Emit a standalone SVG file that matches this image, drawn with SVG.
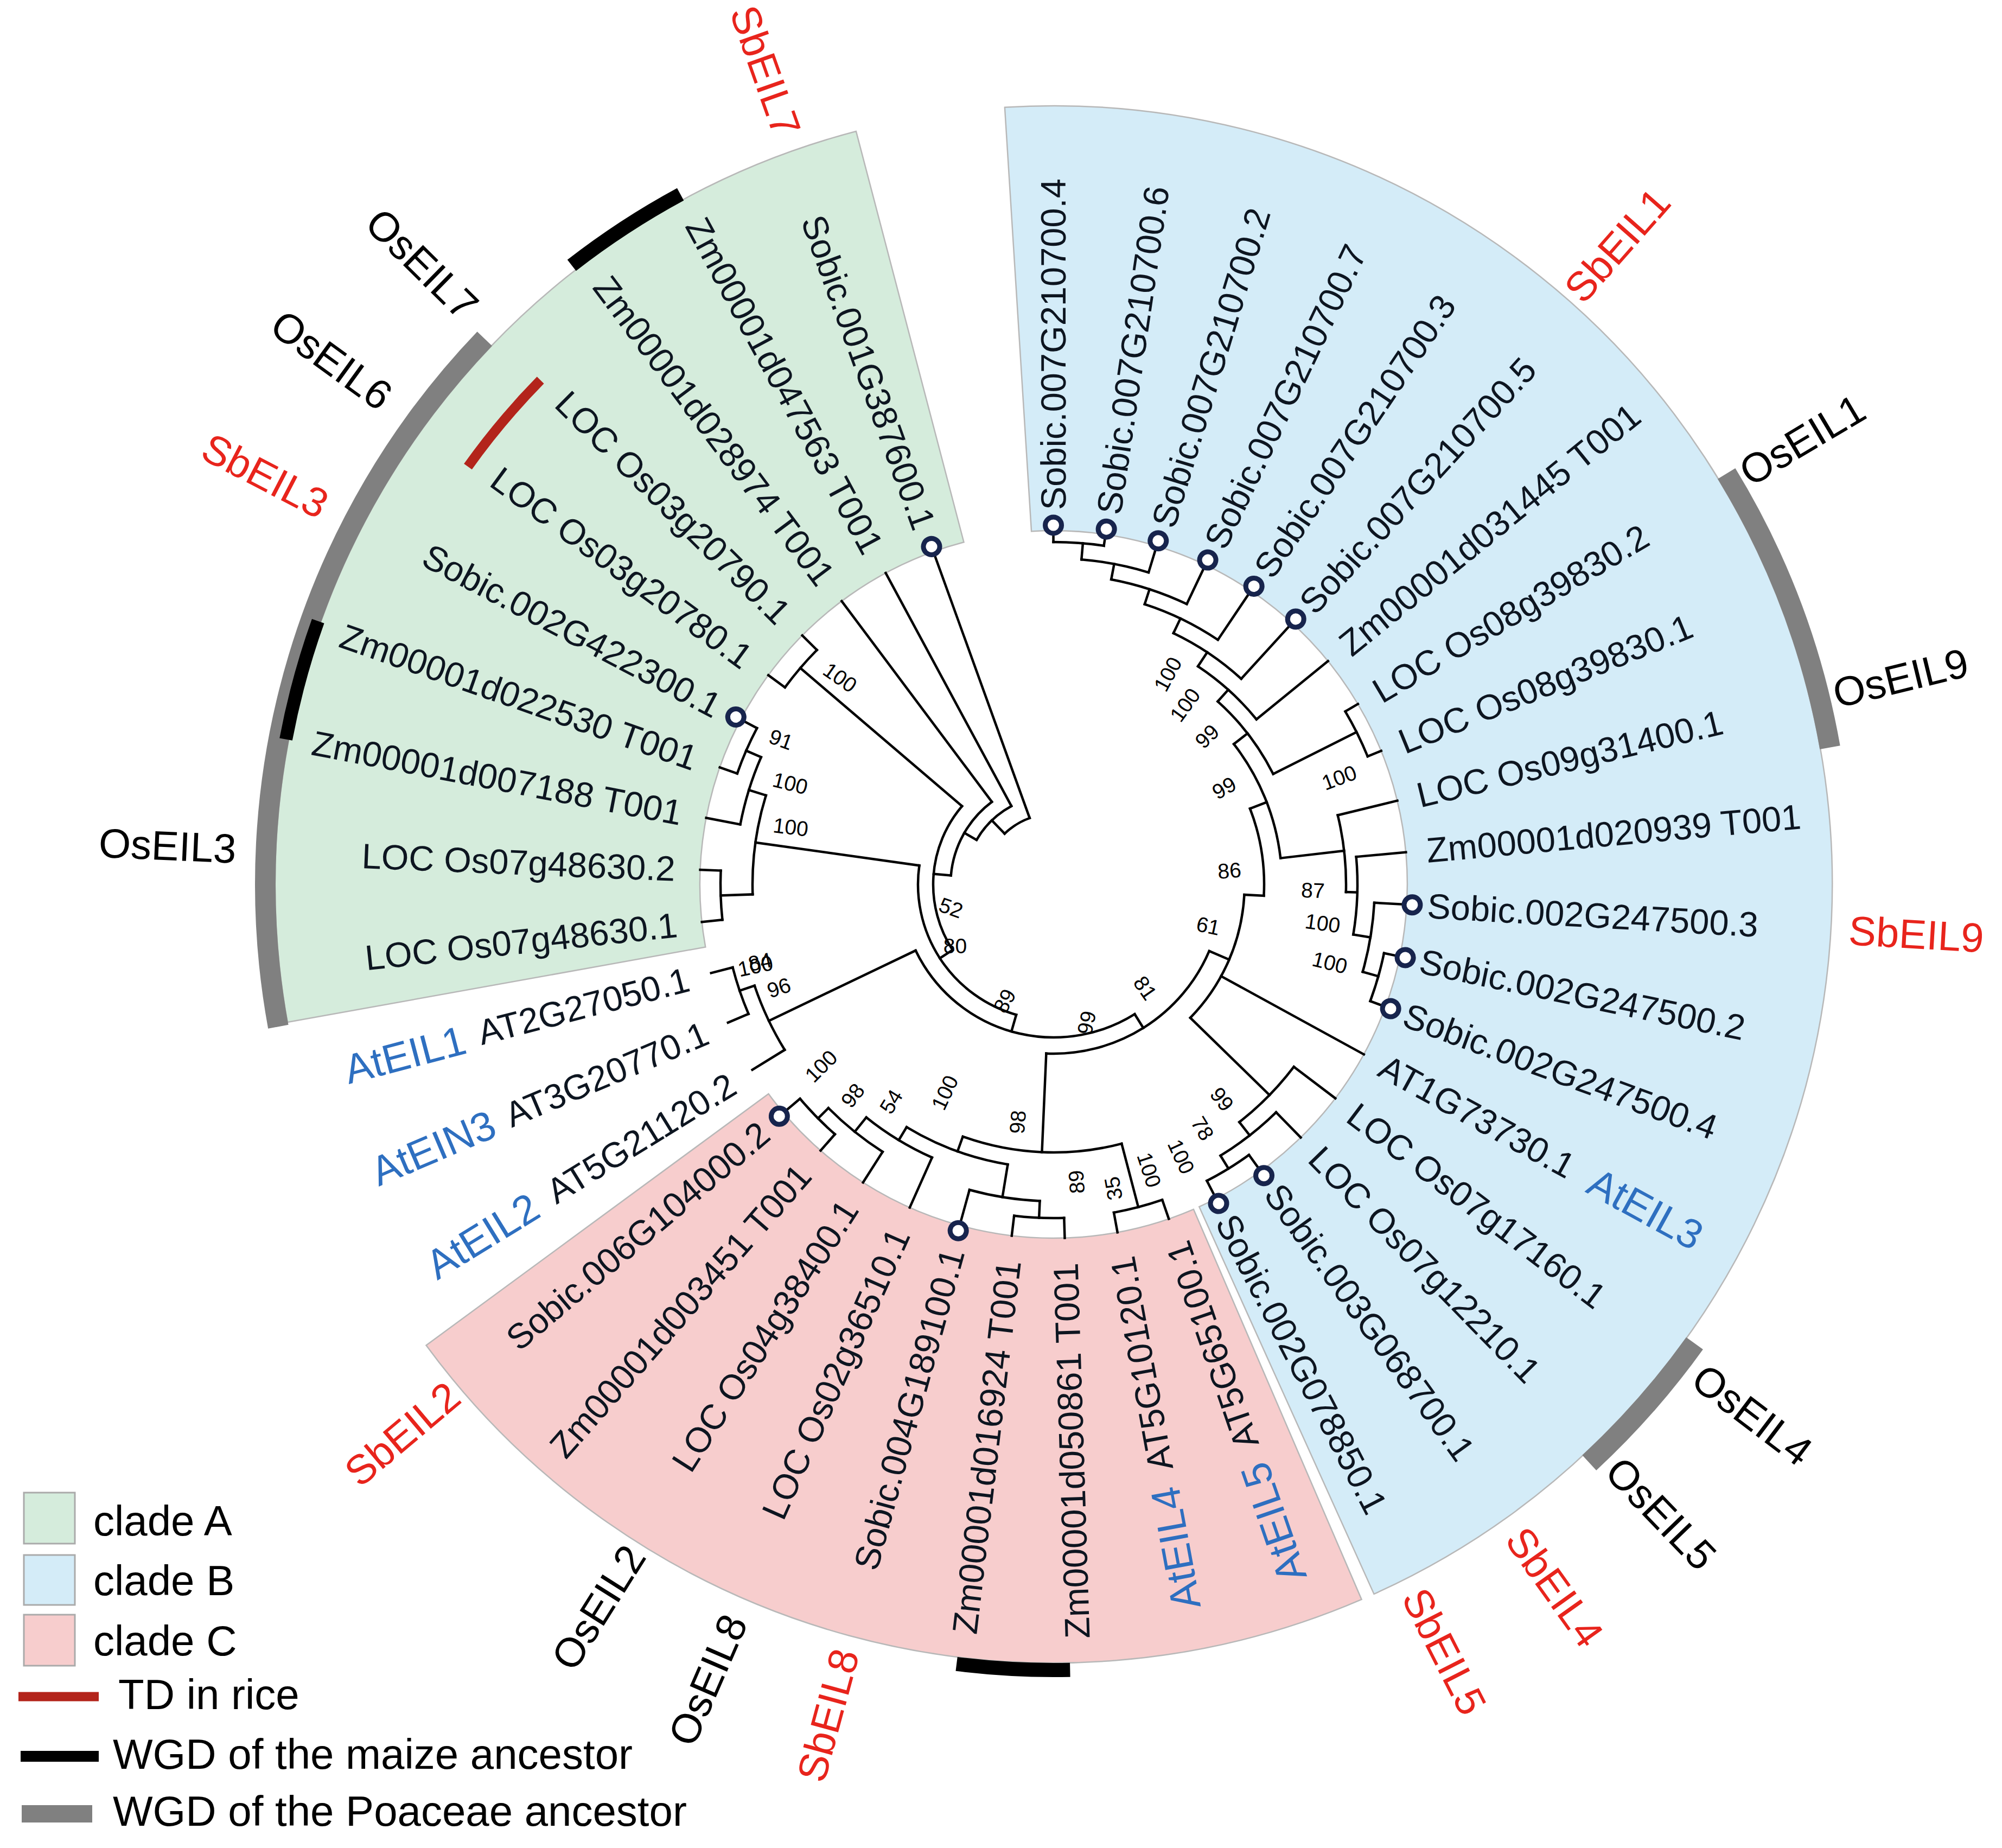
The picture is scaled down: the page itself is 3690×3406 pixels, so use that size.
<svg xmlns="http://www.w3.org/2000/svg" width="3690" height="3406" viewBox="0 0 3690 3406">
<style>
text{font-family:"Liberation Sans",Arial,Helvetica,sans-serif}
.br line,.br circle{fill:none;stroke:#000;stroke-width:4.5;stroke-linecap:square}
.lf{font-size:65px;fill:#0d1520}
.l{text-anchor:end}
.bs text{font-size:39px;fill:#000;text-anchor:middle}
.os{font-size:76px;fill:#000}
.sb{font-size:76px;fill:#e8241c}
.at{font-size:76px;fill:#2e6fc0}
.mk{fill:#fff;stroke:#17244d;stroke-width:9}
.sec{stroke:#b8b8b8;stroke-width:2.5}
.bar{fill:none}
.lg{font-size:78px;fill:#000}
</style>
<rect width="3690" height="3406" fill="#fff"/>
<g id="clade-A"><path class="sec" fill="#d5ecdc" d="M529.7,1884.1 A1435,1435 0 0 1 1577.9,242 L1776.5,999.3 A652,652 0 0 0 1300.3,1745.5 Z"/></g>
<g id="clade-B"><path class="sec" fill="#d4ecf8" d="M1851.9,197.8 A1435,1435 0 0 1 2532.5,2937.9 L2210.3,2224.2 A652,652 0 0 0 1901.1,979.3 Z"/></g>
<g id="clade-C"><path class="sec" fill="#f7cdcd" d="M2509.6,2947.9 A1435,1435 0 0 1 785.5,2479.5 L1416.5,2016 A652,652 0 0 0 2199.9,2228.8 Z"/></g>
<g transform="translate(1942,1630)">
<g id="duplication-bars" class="bar">
<circle r="1453" pathLength="360" stroke="#808080" stroke-width="38" stroke-dasharray="54.2 360" transform="rotate(169.6)"/>
<circle r="1453" pathLength="360" stroke="#808080" stroke-width="38" stroke-dasharray="21.4 360" transform="rotate(328.6)"/>
<circle r="1453" pathLength="360" stroke="#808080" stroke-width="38" stroke-dasharray="11.6 360" transform="rotate(35.6)"/>
<circle r="1446" pathLength="360" stroke="#000" stroke-width="26" stroke-dasharray="9.5 360" transform="rotate(232.1)"/>
<circle r="1440" pathLength="360" stroke="#000" stroke-width="24" stroke-dasharray="9 360" transform="rotate(190.7)"/>
<circle r="1448" pathLength="360" stroke="#000" stroke-width="26" stroke-dasharray="8.3 360" transform="rotate(88.8)"/>
<circle r="1326" pathLength="360" stroke="#b3241b" stroke-width="18" stroke-dasharray="9 360" transform="rotate(215.5)"/>
</g>
<g id="branches" class="br">
<circle r="614" pathLength="360" stroke-dasharray="8.47 360" transform="rotate(173.9)"/>
<circle r="618" pathLength="360" stroke-dasharray="8.47 360" transform="rotate(199.31)"/>
<circle r="588" pathLength="360" stroke-dasharray="12.66 360" transform="rotate(190.84)"/>
<circle r="555" pathLength="360" stroke-dasharray="19.1 360" transform="rotate(178.1)"/>
<circle r="614" pathLength="360" stroke-dasharray="8.47 360" transform="rotate(216.25)"/>
<circle r="250" pathLength="360" stroke-dasharray="82 360" transform="rotate(106)"/>
<circle r="222" pathLength="360" stroke-dasharray="73.5 360" transform="rotate(147)"/>
<circle r="190" pathLength="360" stroke-dasharray="48.19 360" transform="rotate(185)"/>
<circle r="164" pathLength="360" stroke-dasharray="31.66 360" transform="rotate(210)"/>
<circle r="130" pathLength="360" stroke-dasharray="24.13 360" transform="rotate(226)"/>
<circle r="282" pathLength="360" stroke-dasharray="96.4 360" transform="rotate(58)"/>
<circle r="582" pathLength="360" stroke-dasharray="12.9 360" transform="rotate(148.4)"/>
<circle r="611" pathLength="360" stroke-dasharray="8.5 360" transform="rotate(157)"/>
<circle r="312" pathLength="360" stroke-dasharray="69.3 360" transform="rotate(23.2)"/>
<circle r="494" pathLength="360" stroke-dasharray="34.5 360" transform="rotate(75.3)"/>
<circle r="615" pathLength="360" stroke-dasharray="8.6 360" transform="rotate(71)"/>
<circle r="523" pathLength="360" stroke-dasharray="21.9 360" transform="rotate(99.3)"/>
<circle r="584" pathLength="360" stroke-dasharray="12.9 360" transform="rotate(92.5)"/>
<circle r="615" pathLength="360" stroke-dasharray="8.6 360" transform="rotate(88.2)"/>
<circle r="551" pathLength="360" stroke-dasharray="14.8 360" transform="rotate(114)"/>
<circle r="585" pathLength="360" stroke-dasharray="12.6 360" transform="rotate(122.6)"/>
<circle r="612" pathLength="360" stroke-dasharray="8.6 360" transform="rotate(131.2)"/>
<circle r="352" pathLength="360" stroke-dasharray="41.2 360" transform="rotate(3.1)"/>
<circle r="556" pathLength="360" stroke-dasharray="14.79 360" transform="rotate(37.21)"/>
<circle r="587" pathLength="360" stroke-dasharray="12.71 360" transform="rotate(45.69)"/>
<circle r="615" pathLength="360" stroke-dasharray="8.49 360" transform="rotate(54.17)"/>
<circle r="388" pathLength="360" stroke-dasharray="24.2 360" transform="rotate(338.9)"/>
<circle r="421" pathLength="360" stroke-dasharray="31.3 360" transform="rotate(322.1)"/>
<circle r="539" pathLength="360" stroke-dasharray="15.19 360" transform="rotate(346.31)"/>
<circle r="560" pathLength="360" stroke-dasharray="14.71 360" transform="rotate(354.79)"/>
<circle r="592" pathLength="360" stroke-dasharray="12.53 360" transform="rotate(3.27)"/>
<circle r="622" pathLength="360" stroke-dasharray="8.48 360" transform="rotate(11.76)"/>
<circle r="453" pathLength="360" stroke-dasharray="21.4 360" transform="rotate(311.9)"/>
<circle r="625" pathLength="360" stroke-dasharray="8.48 360" transform="rotate(329.34)"/>
<circle r="482" pathLength="360" stroke-dasharray="17.36 360" transform="rotate(303.5)"/>
<circle r="513" pathLength="360" stroke-dasharray="16.88 360" transform="rotate(295.5)"/>
<circle r="543" pathLength="360" stroke-dasharray="15.89 360" transform="rotate(288)"/>
<circle r="572" pathLength="360" stroke-dasharray="14.71 360" transform="rotate(280.7)"/>
<circle r="601" pathLength="360" stroke-dasharray="12.03 360" transform="rotate(274.9)"/>
<circle r="631" pathLength="360" stroke-dasharray="8.48 360" transform="rotate(269.96)"/>
<line x1="555" x2="614" transform="rotate(178.1)"/>
<line x1="588" x2="618" transform="rotate(203.5)"/>
<line x1="555" x2="588" transform="rotate(197.2)"/>
<line x1="250" x2="555" transform="rotate(188)"/>
<line x1="222" x2="614" transform="rotate(220.5)"/>
<line x1="222" x2="250" transform="rotate(147)"/>
<line x1="190" x2="222" transform="rotate(185)"/>
<line x1="164" x2="190" transform="rotate(210)"/>
<line x1="130" x2="164" transform="rotate(226)"/>
<line x1="250" x2="282" transform="rotate(106)"/>
<line x1="282" x2="582" transform="rotate(154.4)"/>
<line x1="582" x2="611" transform="rotate(161.3)"/>
<line x1="282" x2="312" transform="rotate(58)"/>
<line x1="312" x2="494" transform="rotate(92.5)"/>
<line x1="494" x2="615" transform="rotate(75.3)"/>
<line x1="494" x2="523" transform="rotate(109.8)"/>
<line x1="523" x2="584" transform="rotate(99.3)"/>
<line x1="584" x2="615" transform="rotate(92.5)"/>
<line x1="523" x2="551" transform="rotate(121.2)"/>
<line x1="551" x2="585" transform="rotate(128.8)"/>
<line x1="585" x2="612" transform="rotate(135.2)"/>
<line x1="312" x2="352" transform="rotate(23.2)"/>
<line x1="352" x2="556" transform="rotate(44.3)"/>
<line x1="556" x2="587" transform="rotate(52)"/>
<line x1="587" x2="615" transform="rotate(58.4)"/>
<line x1="352" x2="388" transform="rotate(3.1)"/>
<line x1="388" x2="421" transform="rotate(338.9)"/>
<line x1="421" x2="539" transform="rotate(353.4)"/>
<line x1="539" x2="560" transform="rotate(1.5)"/>
<line x1="560" x2="592" transform="rotate(9.5)"/>
<line x1="592" x2="622" transform="rotate(15.8)"/>
<line x1="421" x2="453" transform="rotate(322.1)"/>
<line x1="453" x2="625" transform="rotate(333.3)"/>
<line x1="453" x2="482" transform="rotate(311.9)"/>
<line x1="482" x2="513" transform="rotate(303.5)"/>
<line x1="513" x2="543" transform="rotate(295.5)"/>
<line x1="543" x2="572" transform="rotate(288)"/>
<line x1="572" x2="601" transform="rotate(280.7)"/>
<line x1="601" x2="631" transform="rotate(274.9)"/>
<line x1="614" x2="652" transform="rotate(173.9)"/>
<line x1="614" x2="652" transform="rotate(182.37)"/>
<line x1="588" x2="652" transform="rotate(190.84)"/>
<line x1="618" x2="652" transform="rotate(199.31)"/>
<line x1="618" x2="652" transform="rotate(207.78)"/>
<line x1="614" x2="652" transform="rotate(216.25)"/>
<line x1="614" x2="652" transform="rotate(224.72)"/>
<line x1="190" x2="652" transform="rotate(233.19)"/>
<line x1="164" x2="652" transform="rotate(241.66)"/>
<line x1="130" x2="652" transform="rotate(250.13)"/>
<line x1="631" x2="652" transform="rotate(269.96)"/>
<line x1="631" x2="652" transform="rotate(278.44)"/>
<line x1="601" x2="652" transform="rotate(286.93)"/>
<line x1="572" x2="652" transform="rotate(295.41)"/>
<line x1="543" x2="652" transform="rotate(303.89)"/>
<line x1="513" x2="652" transform="rotate(312.38)"/>
<line x1="482" x2="652" transform="rotate(320.86)"/>
<line x1="625" x2="652" transform="rotate(329.34)"/>
<line x1="625" x2="652" transform="rotate(337.82)"/>
<line x1="539" x2="652" transform="rotate(346.31)"/>
<line x1="560" x2="652" transform="rotate(354.79)"/>
<line x1="592" x2="652" transform="rotate(3.27)"/>
<line x1="622" x2="652" transform="rotate(11.76)"/>
<line x1="622" x2="652" transform="rotate(20.24)"/>
<line x1="352" x2="652" transform="rotate(28.72)"/>
<line x1="556" x2="652" transform="rotate(37.21)"/>
<line x1="587" x2="652" transform="rotate(45.69)"/>
<line x1="615" x2="652" transform="rotate(54.17)"/>
<line x1="615" x2="652" transform="rotate(62.66)"/>
<line x1="615" x2="652" transform="rotate(71)"/>
<line x1="615" x2="652" transform="rotate(79.6)"/>
<line x1="615" x2="652" transform="rotate(88.2)"/>
<line x1="615" x2="652" transform="rotate(96.8)"/>
<line x1="584" x2="652" transform="rotate(105.4)"/>
<line x1="551" x2="652" transform="rotate(114)"/>
<line x1="585" x2="652" transform="rotate(122.6)"/>
<line x1="612" x2="652" transform="rotate(131.2)"/>
<line x1="612" x2="652" transform="rotate(139.8)"/>
<line x1="582" x2="652" transform="rotate(148.4)"/>
<line x1="611" x2="652" transform="rotate(157)"/>
<line x1="611" x2="652" transform="rotate(165.5)"/>
</g>
<g id="bootstrap" class="bs">
<text transform="rotate(224.1) translate(548,0) rotate(-189.1)" dy=".35em">100</text>
<text transform="rotate(208) translate(569,0) rotate(-188)" dy=".35em">91</text>
<text transform="rotate(201) translate(520,0) rotate(-187)" dy=".35em">100</text>
<text transform="rotate(192.3) translate(496,0) rotate(-185.3)" dy=".35em">100</text>
<text transform="rotate(167.2) translate(194,0) rotate(-147.2)" dy=".35em">52</text>
<text transform="rotate(148) translate(214,0) rotate(-148)" dy=".35em">80</text>
<text transform="rotate(164.7) translate(570,0) rotate(-176.7)" dy=".35em">100</text>
<text transform="rotate(164.7) translate(570,0) rotate(-176.7)" dx="10" dy=".2em">84</text>
<text transform="rotate(159.4) translate(541,0) rotate(-177.4)" dy=".35em">96</text>
<text transform="rotate(112.8) translate(233,0) rotate(-174.8)" dy=".35em">89</text>
<text transform="rotate(76.6) translate(262,0) rotate(-154.6)" dy=".35em">99</text>
<text transform="rotate(48.5) translate(255,0) rotate(6.5)" dy=".35em">81</text>
<text transform="rotate(15) translate(295,0) rotate(-3)" dy=".35em">61</text>
<text transform="rotate(-4.5) translate(325,0) rotate(0.5)" dy=".35em">86</text>
<text transform="rotate(142) translate(544,0) rotate(-187)" dy=".35em">100</text>
<text transform="rotate(133.6) translate(537,0) rotate(-185.6)" dy=".35em">98</text>
<text transform="rotate(126.8) translate(500,0) rotate(-184.8)" dy=".35em">54</text>
<text transform="rotate(117.6) translate(433,0) rotate(-182.6)" dy=".35em">100</text>
<text transform="rotate(98.6) translate(443,0) rotate(-183.6)" dy=".35em">98</text>
<text transform="rotate(85.6) translate(550,0) rotate(-179.6)" dy=".35em">89</text>
<text transform="rotate(78.9) translate(571,0) rotate(-178.9)" dy=".35em">35</text>
<text transform="rotate(71.5) translate(555,0) rotate(0.5)" dy=".35em">100</text>
<text transform="rotate(64.9) translate(554,0) rotate(0.1)" dy=".35em">100</text>
<text transform="rotate(58.6) translate(527,0) rotate(0.4)" dy=".35em">78</text>
<text transform="rotate(51.9) translate(503,0) rotate(0.1)" dy=".35em">99</text>
<text transform="rotate(1.3) translate(478,0) rotate(0.7)" dy=".35em">87</text>
<text transform="rotate(8.2) translate(501,0) rotate(-0.2)" dy=".35em">100</text>
<text transform="rotate(15.8) translate(529,0) rotate(-1.8)" dy=".35em">100</text>
<text transform="rotate(298.5) translate(441,0)" dy=".35em">100</text>
<text transform="rotate(306.2) translate(410,0)" dy=".35em">100</text>
<text transform="rotate(316) translate(393,0)" dy=".35em">99</text>
<text transform="rotate(330.5) translate(361,0)" dy=".35em">99</text>
<text transform="rotate(339.5) translate(562,0)" dy=".35em">100</text>
</g>
<g id="markers">
<circle class="mk" cx="662" r="15" transform="rotate(207.78)"/>
<circle class="mk" cx="662" r="15" transform="rotate(250.13)"/>
<circle class="mk" cx="662" r="15" transform="rotate(269.96)"/>
<circle class="mk" cx="662" r="15" transform="rotate(278.44)"/>
<circle class="mk" cx="662" r="15" transform="rotate(286.93)"/>
<circle class="mk" cx="662" r="15" transform="rotate(295.41)"/>
<circle class="mk" cx="662" r="15" transform="rotate(303.89)"/>
<circle class="mk" cx="662" r="15" transform="rotate(312.38)"/>
<circle class="mk" cx="662" r="15" transform="rotate(3.27)"/>
<circle class="mk" cx="662" r="15" transform="rotate(11.76)"/>
<circle class="mk" cx="662" r="15" transform="rotate(20.24)"/>
<circle class="mk" cx="662" r="15" transform="rotate(54.17)"/>
<circle class="mk" cx="662" r="15" transform="rotate(62.66)"/>
<circle class="mk" cx="662" r="15" transform="rotate(105.4)"/>
<circle class="mk" cx="662" r="15" transform="rotate(139.8)"/>
</g>
<g id="leaves-clade-A" class="lf">
<text id="g0" class="l" transform="rotate(-6.1)" x="-698" dy=".35em">LOC Os07g48630.1</text>
<text id="g1" class="l" transform="rotate(2.37)" x="-698" dy=".35em">LOC Os07g48630.2</text>
<text id="g2" class="l" transform="rotate(10.84)" x="-698" dy=".35em">Zm00001d007188 T001</text>
<text id="g3" class="l" transform="rotate(19.31)" x="-698" dy=".35em">Zm00001d022530 T001</text>
<text id="g4" class="l" transform="rotate(27.78)" x="-698" dy=".35em">Sobic.002G422300.1</text>
<text id="g5" class="l" transform="rotate(36.25)" x="-698" dy=".35em">LOC Os03g20780.1</text>
<text id="g6" class="l" transform="rotate(44.72)" x="-698" dy=".35em">LOC Os03g20790.1</text>
<text id="g7" class="l" transform="rotate(53.19)" x="-698" dy=".35em">Zm00001d028974 T001</text>
<text id="g8" class="l" transform="rotate(61.66)" x="-698" dy=".35em">Zm00001d047563 T001</text>
<text id="g9" class="l" transform="rotate(70.13)" x="-698" dy=".35em">Sobic.001G387600.1</text>
</g>
<g id="leaves-clade-B" class="lf">
<text id="b0" transform="rotate(-90.04)" x="690" dy=".35em">Sobic.007G210700.4</text>
<text id="b1" transform="rotate(-81.56)" x="690" dy=".35em">Sobic.007G210700.6</text>
<text id="b2" transform="rotate(-73.07)" x="690" dy=".35em">Sobic.007G210700.2</text>
<text id="b3" transform="rotate(-64.59)" x="690" dy=".35em">Sobic.007G210700.7</text>
<text id="b4" transform="rotate(-56.11)" x="690" dy=".35em">Sobic.007G210700.3</text>
<text id="b5" transform="rotate(-47.62)" x="690" dy=".35em">Sobic.007G210700.5</text>
<text id="b6" transform="rotate(-39.14)" x="690" dy=".35em">Zm00001d031445 T001</text>
<text id="b7" transform="rotate(-30.66)" x="690" dy=".35em">LOC Os08g39830.2</text>
<text id="b8" transform="rotate(-22.18)" x="690" dy=".35em">LOC Os08g39830.1</text>
<text id="b9" transform="rotate(-13.69)" x="690" dy=".35em">LOC Os09g31400.1</text>
<text id="b10" transform="rotate(-5.21)" x="690" dy=".35em">Zm00001d020939 T001</text>
<text id="b11" transform="rotate(3.27)" x="690" dy=".35em">Sobic.002G247500.3</text>
<text id="b12" transform="rotate(11.76)" x="690" dy=".35em">Sobic.002G247500.2</text>
<text id="b13" transform="rotate(20.24)" x="690" dy=".35em">Sobic.002G247500.4</text>
<text id="b14" transform="rotate(28.72)" x="690" dy=".35em">AT1G73730.1</text>
<text id="b15" transform="rotate(37.21)" x="690" dy=".35em">LOC Os07g17160.1</text>
<text id="b16" transform="rotate(45.69)" x="690" dy=".35em">LOC Os07g12210.1</text>
<text id="b17" transform="rotate(54.17)" x="690" dy=".35em">Sobic.003G068700.1</text>
<text id="b18" transform="rotate(62.66)" x="690" dy=".35em">Sobic.002G078850.1</text>
</g>
<g id="leaves-clade-C" class="lf">
<text id="p0" class="l" transform="rotate(-109)" x="-698" dy=".35em">AT5G65100.1</text>
<text id="p1" class="l" transform="rotate(-100.4)" x="-698" dy=".35em">AT5G10120.1</text>
<text id="p2" class="l" transform="rotate(-91.8)" x="-698" dy=".35em">Zm00001d050861 T001</text>
<text id="p3" class="l" transform="rotate(-83.2)" x="-698" dy=".35em">Zm00001d016924 T001</text>
<text id="p4" class="l" transform="rotate(-74.6)" x="-698" dy=".35em">Sobic.004G189100.1</text>
<text id="p5" class="l" transform="rotate(-66)" x="-698" dy=".35em">LOC Os02g36510.1</text>
<text id="p6" class="l" transform="rotate(-57.4)" x="-698" dy=".35em">LOC Os04g38400.1</text>
<text id="p7" class="l" transform="rotate(-48.8)" x="-698" dy=".35em">Zm00001d003451 T001</text>
<text id="p8" class="l" transform="rotate(-40.2)" x="-698" dy=".35em">Sobic.006G104000.2</text>
</g>
<g id="leaves-arabidopsis" class="lf">
<text id="a2" class="l" transform="rotate(-31.6)" x="-695" dy=".35em">AT5G21120.2</text>
<text id="a1" class="l" transform="rotate(-23)" x="-695" dy=".35em">AT3G20770.1</text>
<text id="a0" class="l" transform="rotate(-14.5)" x="-695" dy=".35em">AT2G27050.1</text>
</g>
<g id="gene-names">
<text class="at l" transform="rotate(-14.7)" x="-1122" dy=".35em">AtEIL1</text>
<text class="at l" transform="rotate(-23)" x="-1122" dy=".35em">AtEIN3</text>
<text class="at l" transform="rotate(-31.6)" x="-1122" dy=".35em">AtEIL2</text>
<text class="at l" transform="rotate(-100.4)" x="-1130" dy=".35em">AtEIL4</text>
<text class="at l" transform="rotate(-109)" x="-1130" dy=".35em">AtEIL5</text>
<text class="at" transform="rotate(28.72)" x="1130" dy=".35em">AtEIL3</text>
<text class="os" transform="rotate(-30.7)" x="1478" dy=".35em">OsEIL1</text>
<text class="os" transform="rotate(-13.7)" x="1480" dy=".35em">OsEIL9</text>
<text class="sb" transform="rotate(3.3)" x="1468" dy=".35em">SbEIL9</text>
<text class="os" transform="rotate(37.2)" x="1490" dy=".35em">OsEIL4</text>
<text class="os" transform="rotate(46)" x="1485" dy=".35em">OsEIL5</text>
<text class="sb" transform="rotate(54.5)" x="1466" dy=".35em">SbEIL4</text>
<text class="sb" transform="rotate(63)" x="1462" dy=".35em">SbEIL5</text>
<text class="sb" transform="rotate(-48.6)" x="1446" dy=".35em">SbEIL1</text>
<text class="sb l" transform="rotate(70.5)" x="-1466" dy=".35em">SbEIL7</text>
<text class="os l" transform="rotate(44.5)" x="-1505" dy=".35em">OsEIL7</text>
<text class="os l" transform="rotate(36)" x="-1518" dy=".35em">OsEIL6</text>
<text class="sb l" transform="rotate(27.4)" x="-1512" dy=".35em">SbEIL3</text>
<text class="os l" transform="rotate(2.5)" x="-1508" dy=".35em">OsEIL3</text>
<text class="sb l" transform="rotate(-74.8)" x="-1462" dy=".35em">SbEIL8</text>
<text class="os l" transform="rotate(-66.5)" x="-1472" dy=".35em">OsEIL8</text>
<text class="os l" transform="rotate(-57.8)" x="-1448" dy=".35em">OsEIL2</text>
<text class="sb l" transform="rotate(-40.15)" x="-1446" dy=".35em">SbEIL2</text>
</g>
</g>
<g id="legend">
<rect x="44" y="2751" width="94" height="94" fill="#d5ecdc" stroke="#aaa" stroke-width="3"/>
<text class="lg" x="172" y="2830">clade A</text>
<rect x="44" y="2866" width="94" height="92" fill="#d4ecf8" stroke="#aaa" stroke-width="3"/>
<text class="lg" x="172" y="2940">clade B</text>
<rect x="44" y="2976" width="94" height="94" fill="#f7cdcd" stroke="#aaa" stroke-width="3"/>
<text class="lg" x="172" y="3051">clade C</text>
<line x1="34" y1="3127" x2="182" y2="3127" stroke="#b3241b" stroke-width="17"/>
<text class="lg" x="218" y="3150">TD in rice</text>
<line x1="38" y1="3237" x2="182" y2="3237" stroke="#000" stroke-width="20"/>
<text class="lg" x="208" y="3260">WGD of the maize ancestor</text>
<line x1="40" y1="3343" x2="170" y2="3343" stroke="#808080" stroke-width="32"/>
<text class="lg" x="208" y="3365">WGD of the Poaceae ancestor</text>
</g>
</svg>
